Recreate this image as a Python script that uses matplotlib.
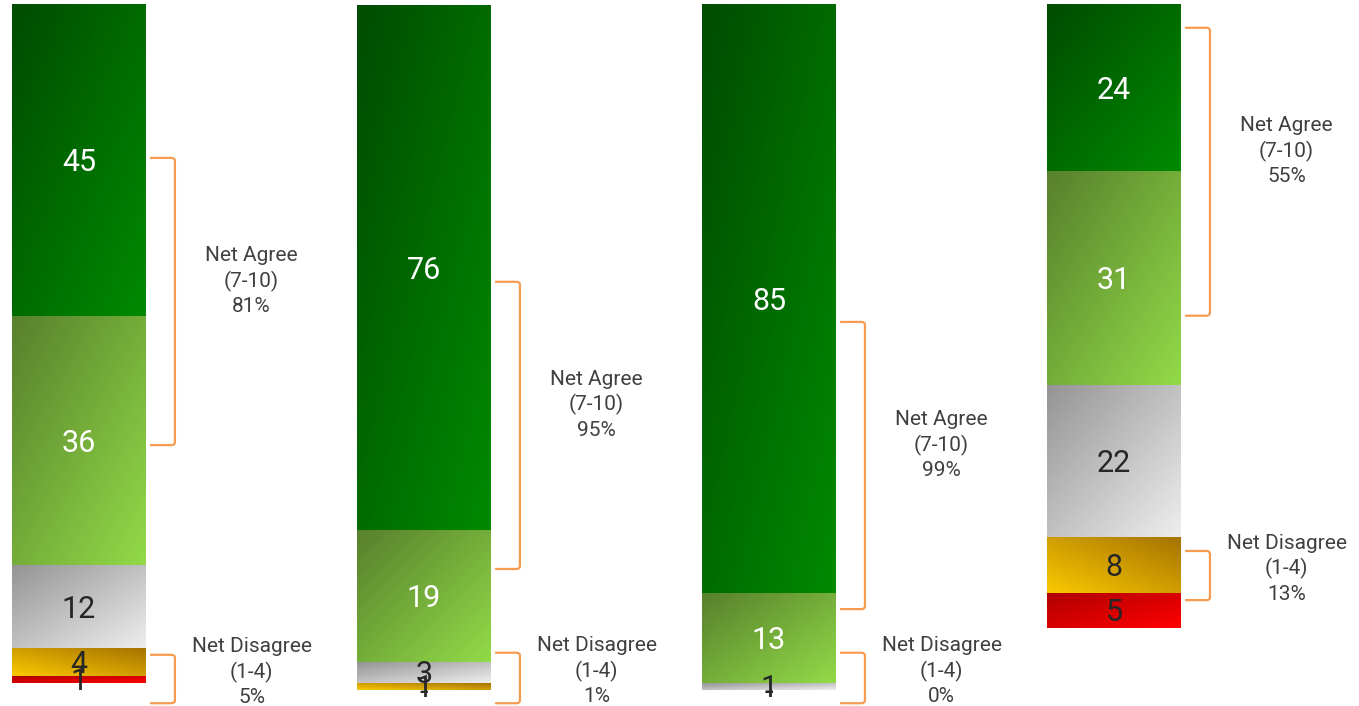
import matplotlib.pyplot as plt
import numpy as np
from matplotlib.colors import LinearSegmentedColormap
from matplotlib.path import Path
from matplotlib.patches import PathPatch

plt.rcParams['font.family'] = ['Roboto', 'DejaVu Sans']

# segment values, top to bottom: 10-9, 8-7, 6-5, 4-3, 2-1
top_box = [45, 76, 85, 24]
agree_low = [36, 19, 13, 31]
neutral = [12, 3, 1, 22]
disagree_hi = [4, 1, 0, 8]
disagree_low = [1, 0, 0, 5]

net_agree = [81, 95, 99, 55]
net_disagree = [5, 1, 0, 13]

# bracket spans (in the same units as the bars, 0 at the top)
agree_span = [(22.1, 63.6), (40.0, 81.5), (45.8, 87.3), (3.3, 44.9)]
disagree_span = [(93.9, 100.9), (93.6, 100.9), (93.6, 100.9), (78.9, 86.0)]

segments = [top_box, agree_low, neutral, disagree_hi, disagree_low]
# (dark, light, direction) for each segment's gradient
fills = [
    ('#004c00', '#008a00', 'down'),
    ('#58812c', '#92da48', 'down'),
    ('#959595', '#eeeeee', 'down'),
    ('#a67400', '#fac800', 'up'),
    ('#b00000', '#ff0000', 'down'),
]
txt_colors = ['white', 'white', '#262626', '#262626', '#262626']

orange = '#f79b50'
grey_txt = '#404040'

fig = plt.figure(figsize=(13.59, 7.06), dpi=100)
ax = fig.add_axes([0, 0, 1, 1])
ax.set_xlim(-0.229, 3.710)
ax.set_ylim(101.3, -0.72)
ax.axis('off')

width = 0.388
gx, gy = np.meshgrid(np.linspace(0, 1, 60), np.linspace(0, 1, 60))

for i in range(4):
    bottom = 0
    for s, vals in enumerate(segments):
        v = vals[i]
        dark, light, way = fills[s]
        if v > 0:
            cmap = LinearSegmentedColormap.from_list('g', [dark, light])
            if way == 'down':
                t = (gx + gy) / 2
            else:
                t = ((1 - gx) + gy) / 2
            ax.imshow(t, cmap=cmap, extent=(i - width / 2, i + width / 2, bottom + v, bottom),
                      aspect='auto', interpolation='bilinear', zorder=1)
        label = str(v) if v > 0 else '-'
        ax.text(i, bottom + v / 2 + 0.3, label, ha='center', va='center', fontsize=22,
                color=txt_colors[s], zorder=3)
        bottom += v

    # brackets and net labels
    for (y0, y1), head, pct in [(agree_span[i], 'Net Agree\n(7-10)', net_agree[i]),
                                (disagree_span[i], 'Net Disagree\n(1-4)', net_disagree[i])]:
        x0 = i + 0.206
        x1 = i + 0.278
        rx, ry = 0.01, 0.45
        verts = [(x0, y0), (x1 - rx, y0), (x1, y0), (x1, y0 + ry),
                 (x1, y1 - ry), (x1, y1), (x1 - rx, y1), (x0, y1)]
        codes = [Path.MOVETO, Path.LINETO, Path.CURVE3, Path.CURVE3,
                 Path.LINETO, Path.CURVE3, Path.CURVE3, Path.LINETO]
        ax.add_patch(PathPatch(Path(verts, codes), fill=False, edgecolor=orange,
                               lw=1.6, zorder=2))
        mid = (y0 + y1) / 2 - (3 if 'Agree' in head else 1)
        ax.text(i + 0.5, mid, f'{head}\n{pct}%', ha='center', va='center',
                fontsize=15, color=grey_txt, linespacing=1.35)

fig.savefig('out.png', dpi=100)
